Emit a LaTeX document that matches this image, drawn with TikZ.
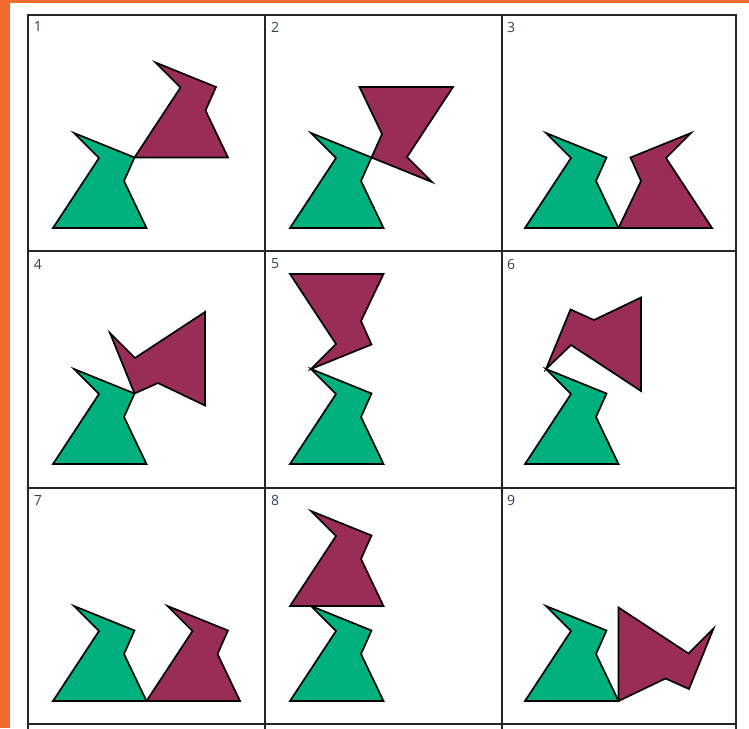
\documentclass[tikz,border=0pt]{standalone}
\usepackage{fontspec}
\setmainfont{Open Sans}
\definecolor{frameorange}{HTML}{F26A2E}
\definecolor{piecegreen}{HTML}{00B07F}
\definecolor{piecemaroon}{HTML}{9A2D55}
\definecolor{labelgray}{HTML}{34405A}
% the green piece, in the coordinates of one cell
\newcommand{\drawgreen}{\draw[greenpiece] (25,213) -- (118.5,213) -- (96,166) -- (106.5,142.5) -- (46,118) -- (71,143) -- cycle;}
\begin{document}
\begin{tikzpicture}[x=1pt,y=-1pt,
  gridline/.style={line width=2pt, black!85, line cap=rect},
  greenpiece/.style={draw=black, line width=1.7pt, fill=piecegreen},
  maroonpiece/.style={draw=black, line width=1.7pt, fill=piecemaroon},
  celllabel/.style={text=labelgray, font=\fontsize{14}{14}\selectfont, inner sep=0pt}]
\useasboundingbox (0,0) rectangle (749,728);
\fill[white] (0,0) rectangle (749,728);
\fill[frameorange] (0,0) rectangle (10,728);
\fill[frameorange] (0,0) rectangle (749,3);

% row 1
\begin{scope}[shift={(28,15)}]
  \drawgreen
  \draw[maroonpiece] (106.5,142.5) -- (200,142.5) -- (177.5,95.5) -- (188,72) -- (127.5,47.5) -- (152.5,72.5) -- cycle;
\end{scope}
\begin{scope}[shift={(265,15)}]
  \drawgreen
  \draw[maroonpiece] (188,72) -- (94.5,72) -- (117,119) -- (106.5,142.5) -- (167,167) -- (142,142) -- cycle;
\end{scope}
\begin{scope}[shift={(500,15)}]
  \drawgreen
  \draw[maroonpiece] (212,213) -- (118.5,213) -- (141,166) -- (130.5,142.5) -- (191,118) -- (166,143) -- cycle;
\end{scope}

% row 2
\begin{scope}[shift={(28,251)}]
  \drawgreen
  \draw[maroonpiece] (177,61) -- (177,154.5) -- (130,132) -- (106.5,142.5) -- (82,82) -- (107,107) -- cycle;
\end{scope}
\begin{scope}[shift={(265,251)}]
  \drawgreen
  \draw[maroonpiece] (25,23) -- (118.5,23) -- (96,70) -- (106.5,93.5) -- (46,118) -- (71,93) -- cycle;
\end{scope}
\begin{scope}[shift={(500,251)}]
  \drawgreen
  \draw[maroonpiece] (141,140) -- (141,46.5) -- (94,69) -- (70.5,58.5) -- (46,118) -- (71,94) -- cycle;
\end{scope}

% row 3
\begin{scope}[shift={(28,488)}]
  \drawgreen
  \draw[maroonpiece] (118.5,213) -- (212,213) -- (189.5,166) -- (200,142.5) -- (139.5,118) -- (164.5,143) -- cycle;
\end{scope}
\begin{scope}[shift={(265,488)}]
  \drawgreen
  \draw[maroonpiece] (25,118) -- (118.5,118) -- (96,71) -- (106.5,47.5) -- (46,23) -- (71,48) -- cycle;
\end{scope}
\begin{scope}[shift={(500,488)}]
  \drawgreen
  \draw[maroonpiece] (118.5,119.5) -- (118.5,213) -- (165.5,190.5) -- (189,201) -- (213.5,140.5) -- (188.5,165.5) -- cycle;
\end{scope}

% grid
\foreach \gx in {28,265,502,736} \draw[gridline] (\gx,15) -- (\gx,728);
\foreach \gy in {15,251,488,724} \draw[gridline] (28,\gy) -- (736,\gy);

% cell numbers
\node[celllabel] (lab1) at (38,27) {1};
\node[celllabel] (lab2) at (275,27) {2};
\node[celllabel] (lab3) at (511,27) {3};
\node[celllabel] (lab4) at (38,264) {4};
\node[celllabel] (lab5) at (275,264) {5};
\node[celllabel] (lab6) at (511,264) {6};
\node[celllabel] (lab7) at (38,500) {7};
\node[celllabel] (lab8) at (275,500) {8};
\node[celllabel] (lab9) at (511,500) {9};
\end{tikzpicture}
\end{document}
